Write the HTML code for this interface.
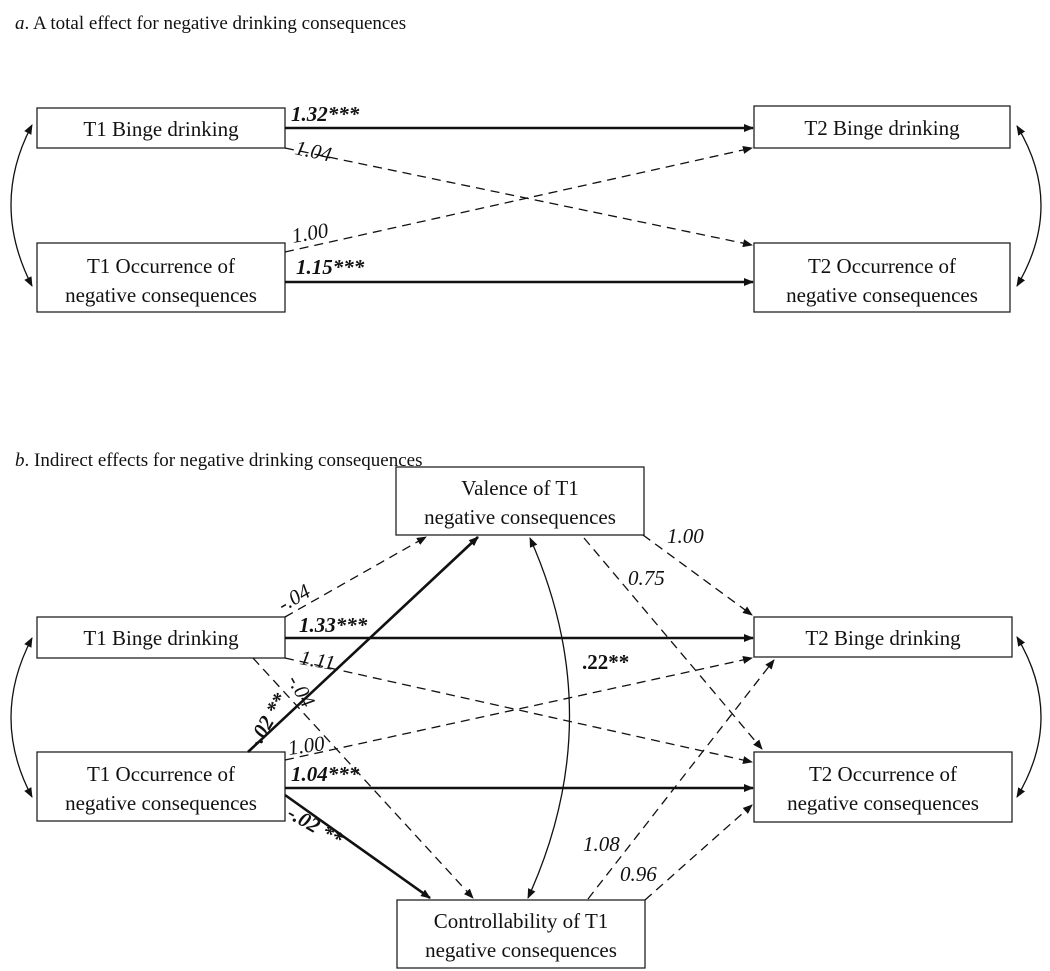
<!DOCTYPE html>
<html><head><meta charset="utf-8"><style>
body{margin:0;background:#fff}
svg{display:block}
text{font-family:"Liberation Serif",serif;font-size:21px;fill:#111}
.t{font-size:19px}
.i{font-style:italic}
.b{font-weight:bold;font-style:italic}
</style></head><body>
<svg width="1050" height="971" viewBox="0 0 1050 971">
<defs>
<marker id="a" viewBox="0 0 10 10" refX="9" refY="5" markerWidth="10" markerHeight="10" markerUnits="userSpaceOnUse" orient="auto-start-reverse"><path d="M0,1 L10,5 L0,9 z" fill="#111"/></marker>
</defs>
<g fill="none" stroke="#222" stroke-width="1.3">
<!-- part a boxes -->
<rect x="37" y="108" width="248" height="40"/>
<rect x="37" y="243" width="248" height="69"/>
<rect x="754" y="106" width="256" height="42"/>
<rect x="754" y="243" width="256" height="69"/>
<!-- part b boxes -->
<rect x="396" y="467" width="248" height="68"/>
<rect x="37" y="617" width="248" height="41"/>
<rect x="37" y="752" width="248" height="69"/>
<rect x="754" y="617" width="258" height="40"/>
<rect x="754" y="752" width="258" height="70"/>
<rect x="397" y="900" width="248" height="68"/>
</g>
<g fill="none" stroke="#111">
<!-- part a -->
<line x1="285" y1="128" x2="753" y2="128" stroke-width="2.6" marker-end="url(#a)"/>
<line x1="285" y1="282" x2="753" y2="282" stroke-width="2.6" marker-end="url(#a)"/>
<line x1="285" y1="148" x2="752" y2="245" stroke-width="1.3" stroke-dasharray="9,6" marker-end="url(#a)"/>
<line x1="285" y1="252" x2="752" y2="148" stroke-width="1.3" stroke-dasharray="9,6" marker-end="url(#a)"/>
<path d="M32,125 Q-10,204 32,286" stroke-width="1.3" marker-start="url(#a)" marker-end="url(#a)"/>
<path d="M1017,126 Q1065,205 1017,286" stroke-width="1.3" marker-start="url(#a)" marker-end="url(#a)"/>
<!-- part b -->
<line x1="285" y1="617" x2="426" y2="537" stroke-width="1.3" stroke-dasharray="9,6" marker-end="url(#a)"/>
<line x1="248" y1="752" x2="478" y2="537" stroke-width="2.6" marker-end="url(#a)"/>
<path d="M530,538 Q610,718 528,898" stroke-width="1.3" marker-start="url(#a)" marker-end="url(#a)"/>
<line x1="643" y1="535" x2="752" y2="615" stroke-width="1.3" stroke-dasharray="9,6" marker-end="url(#a)"/>
<line x1="584" y1="538" x2="762" y2="749" stroke-width="1.3" stroke-dasharray="9,6" marker-end="url(#a)"/>
<line x1="285" y1="638" x2="753" y2="638" stroke-width="2.6" marker-end="url(#a)"/>
<line x1="285" y1="658" x2="752" y2="762" stroke-width="1.3" stroke-dasharray="9,6" marker-end="url(#a)"/>
<line x1="285" y1="760" x2="752" y2="658" stroke-width="1.3" stroke-dasharray="9,6" marker-end="url(#a)"/>
<line x1="285" y1="788" x2="753" y2="788" stroke-width="2.6" marker-end="url(#a)"/>
<line x1="285" y1="795" x2="430" y2="898" stroke-width="2.6" marker-end="url(#a)"/>
<line x1="253" y1="658" x2="473" y2="898" stroke-width="1.3" stroke-dasharray="9,6" marker-end="url(#a)"/>
<line x1="588" y1="899" x2="774" y2="660" stroke-width="1.3" stroke-dasharray="9,6" marker-end="url(#a)"/>
<line x1="645" y1="900" x2="752" y2="805" stroke-width="1.3" stroke-dasharray="9,6" marker-end="url(#a)"/>
<path d="M32,638 Q-10,718 32,797" stroke-width="1.3" marker-start="url(#a)" marker-end="url(#a)"/>
<path d="M1017,637 Q1065,717 1017,797" stroke-width="1.3" marker-start="url(#a)" marker-end="url(#a)"/>
</g>
<!-- titles -->
<text x="15" y="29" class="t"><tspan class="i">a</tspan>. A total effect for negative drinking consequences</text>
<text x="15" y="466" class="t"><tspan class="i">b</tspan>. Indirect effects for negative drinking consequences</text>
<!-- box labels -->
<g text-anchor="middle">
<text x="161" y="136">T1 Binge drinking</text>
<text x="161" y="273">T1 Occurrence of</text>
<text x="161" y="302">negative consequences</text>
<text x="882" y="135">T2 Binge drinking</text>
<text x="882" y="273">T2 Occurrence of</text>
<text x="882" y="302">negative consequences</text>
<text x="520" y="495">Valence of T1</text>
<text x="520" y="524">negative consequences</text>
<text x="161" y="645">T1 Binge drinking</text>
<text x="161" y="781">T1 Occurrence of</text>
<text x="161" y="810">negative consequences</text>
<text x="883" y="645">T2 Binge drinking</text>
<text x="883" y="781">T2 Occurrence of</text>
<text x="883" y="810">negative consequences</text>
<text x="521" y="928">Controllability of T1</text>
<text x="521" y="957">negative consequences</text>
</g>
<!-- path labels a -->
<text x="291" y="121" class="b">1.32***</text>
<text x="294" y="154" class="i" transform="rotate(12 294 154)">1.04</text>
<text x="293" y="243" class="i" transform="rotate(-10 293 243)">1.00</text>
<text x="296" y="274" class="b">1.15***</text>
<!-- path labels b -->
<text x="283" y="612" class="i" transform="rotate(-30 283 612)">-.04</text>
<text x="299" y="632" class="b">1.33***</text>
<text x="299" y="664" class="i" transform="rotate(10 299 664)">1.11</text>
<text x="287" y="680" class="i" transform="rotate(60 287 680)">-.04</text>
<text x="258" y="750" class="b" transform="rotate(-60 258 750)">-.02 **</text>
<text x="289" y="755" class="i" transform="rotate(-8 289 755)">1.00</text>
<text x="291" y="781" class="b">1.04***</text>
<text x="286" y="817" class="b" transform="rotate(30 286 817)">-.02 **</text>
<text x="667" y="543" class="i">1.00</text>
<text x="628" y="585" class="i">0.75</text>
<text x="582" y="669" style="font-weight:bold">.22**</text>
<text x="583" y="851" class="i">1.08</text>
<text x="620" y="881" class="i">0.96</text>
</svg>
</body></html>
